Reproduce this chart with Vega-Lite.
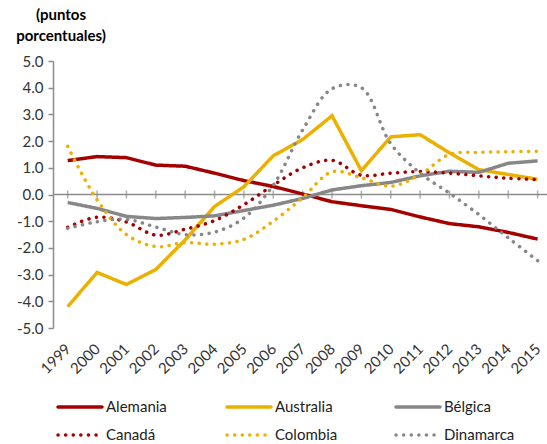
{
  "$schema": "https://vega.github.io/schema/vega-lite/v6.json",
  "width": 494,
  "height": 267,
  "autosize": {"type": "none"},
  "padding": {"left": 53, "top": 61, "right": 0, "bottom": 116},
  "background": "white",
  "config": {
    "font": "Lato",
    "view": {"stroke": null},
    "locale": {"number": {"decimal": ".", "thousands": ",", "grouping": [3], "currency": ["$", ""], "minus": "-"}},
    "axisX": {"labelAngle": -45, "labelAlign": "right", "labelBaseline": "middle", "domain": false, "ticks": false, "grid": false, "title": null, "labelFontSize": 15, "labelColor": "#333333", "labelPadding": 18, "labelFlush": false, "labelOverlap": false, "format": "d"},
    "axisY": {"format": ".1f", "domain": true, "domainColor": "#8c8c8c", "domainWidth": 1.5, "ticks": true, "tickSize": 5, "tickColor": "#8c8c8c", "tickWidth": 1.5, "grid": false, "title": null, "labelFontSize": 15, "labelPadding": 5, "labelColor": "#333333", "labelOverlap": false, "labelFlush": false}
  },
  "title": {
    "text": ["(puntos", "porcentuales)"],
    "anchor": "start",
    "frame": "group",
    "align": "center",
    "dx": 8,
    "fontSize": 15,
    "fontWeight": "bold",
    "lineHeight": 21,
    "offset": 10,
    "color": "#000000"
  },
  "data": {
    "values": [
      {"pais": "Alemania", "anio": 1999, "valor": 1.27},
      {"pais": "Alemania", "anio": 2000, "valor": 1.42},
      {"pais": "Alemania", "anio": 2001, "valor": 1.38},
      {"pais": "Alemania", "anio": 2002, "valor": 1.1},
      {"pais": "Alemania", "anio": 2003, "valor": 1.06},
      {"pais": "Alemania", "anio": 2004, "valor": 0.8},
      {"pais": "Alemania", "anio": 2005, "valor": 0.52},
      {"pais": "Alemania", "anio": 2006, "valor": 0.3},
      {"pais": "Alemania", "anio": 2007, "valor": 0.02},
      {"pais": "Alemania", "anio": 2008, "valor": -0.27},
      {"pais": "Alemania", "anio": 2009, "valor": -0.42},
      {"pais": "Alemania", "anio": 2010, "valor": -0.56},
      {"pais": "Alemania", "anio": 2011, "valor": -0.84},
      {"pais": "Alemania", "anio": 2012, "valor": -1.09},
      {"pais": "Alemania", "anio": 2013, "valor": -1.21},
      {"pais": "Alemania", "anio": 2014, "valor": -1.42},
      {"pais": "Alemania", "anio": 2015, "valor": -1.67},
      {"pais": "Australia", "anio": 1999, "valor": -4.2},
      {"pais": "Australia", "anio": 2000, "valor": -2.92},
      {"pais": "Australia", "anio": 2001, "valor": -3.37},
      {"pais": "Australia", "anio": 2002, "valor": -2.81},
      {"pais": "Australia", "anio": 2003, "valor": -1.7},
      {"pais": "Australia", "anio": 2004, "valor": -0.45},
      {"pais": "Australia", "anio": 2005, "valor": 0.29},
      {"pais": "Australia", "anio": 2006, "valor": 1.45},
      {"pais": "Australia", "anio": 2007, "valor": 2.06},
      {"pais": "Australia", "anio": 2008, "valor": 2.95},
      {"pais": "Australia", "anio": 2009, "valor": 0.89},
      {"pais": "Australia", "anio": 2010, "valor": 2.16},
      {"pais": "Australia", "anio": 2011, "valor": 2.24},
      {"pais": "Australia", "anio": 2012, "valor": 1.56},
      {"pais": "Australia", "anio": 2013, "valor": 0.93},
      {"pais": "Australia", "anio": 2014, "valor": 0.75},
      {"pais": "Australia", "anio": 2015, "valor": 0.57},
      {"pais": "Bélgica", "anio": 1999, "valor": -0.3},
      {"pais": "Bélgica", "anio": 2000, "valor": -0.52},
      {"pais": "Bélgica", "anio": 2001, "valor": -0.82},
      {"pais": "Bélgica", "anio": 2002, "valor": -0.9},
      {"pais": "Bélgica", "anio": 2003, "valor": -0.86},
      {"pais": "Bélgica", "anio": 2004, "valor": -0.8},
      {"pais": "Bélgica", "anio": 2005, "valor": -0.6},
      {"pais": "Bélgica", "anio": 2006, "valor": -0.4},
      {"pais": "Bélgica", "anio": 2007, "valor": -0.15},
      {"pais": "Bélgica", "anio": 2008, "valor": 0.17},
      {"pais": "Bélgica", "anio": 2009, "valor": 0.33},
      {"pais": "Bélgica", "anio": 2010, "valor": 0.45},
      {"pais": "Bélgica", "anio": 2011, "valor": 0.7},
      {"pais": "Bélgica", "anio": 2012, "valor": 0.87},
      {"pais": "Bélgica", "anio": 2013, "valor": 0.83},
      {"pais": "Bélgica", "anio": 2014, "valor": 1.17},
      {"pais": "Bélgica", "anio": 2015, "valor": 1.26},
      {"pais": "Canadá", "anio": 1999, "valor": -1.23},
      {"pais": "Canadá", "anio": 2000, "valor": -0.85},
      {"pais": "Canadá", "anio": 2001, "valor": -1.03},
      {"pais": "Canadá", "anio": 2002, "valor": -1.52},
      {"pais": "Canadá", "anio": 2003, "valor": -1.3},
      {"pais": "Canadá", "anio": 2004, "valor": -0.98},
      {"pais": "Canadá", "anio": 2005, "valor": -0.38},
      {"pais": "Canadá", "anio": 2006, "valor": 0.35},
      {"pais": "Canadá", "anio": 2007, "valor": 1.0},
      {"pais": "Canadá", "anio": 2008, "valor": 1.28},
      {"pais": "Canadá", "anio": 2009, "valor": 0.72},
      {"pais": "Canadá", "anio": 2010, "valor": 0.8},
      {"pais": "Canadá", "anio": 2011, "valor": 0.86},
      {"pais": "Canadá", "anio": 2012, "valor": 0.8},
      {"pais": "Canadá", "anio": 2013, "valor": 0.7},
      {"pais": "Canadá", "anio": 2014, "valor": 0.61},
      {"pais": "Canadá", "anio": 2015, "valor": 0.56},
      {"pais": "Colombia", "anio": 1999, "valor": 1.8},
      {"pais": "Colombia", "anio": 2000, "valor": -0.2},
      {"pais": "Colombia", "anio": 2001, "valor": -1.5},
      {"pais": "Colombia", "anio": 2002, "valor": -1.95},
      {"pais": "Colombia", "anio": 2003, "valor": -1.8},
      {"pais": "Colombia", "anio": 2004, "valor": -1.86},
      {"pais": "Colombia", "anio": 2005, "valor": -1.68},
      {"pais": "Colombia", "anio": 2006, "valor": -1.0},
      {"pais": "Colombia", "anio": 2007, "valor": -0.12},
      {"pais": "Colombia", "anio": 2008, "valor": 0.85},
      {"pais": "Colombia", "anio": 2009, "valor": 0.63},
      {"pais": "Colombia", "anio": 2010, "valor": 0.31},
      {"pais": "Colombia", "anio": 2011, "valor": 0.75},
      {"pais": "Colombia", "anio": 2012, "valor": 1.5},
      {"pais": "Colombia", "anio": 2013, "valor": 1.58},
      {"pais": "Colombia", "anio": 2014, "valor": 1.6},
      {"pais": "Colombia", "anio": 2015, "valor": 1.62},
      {"pais": "Dinamarca", "anio": 1999, "valor": -1.27},
      {"pais": "Dinamarca", "anio": 2000, "valor": -1.02},
      {"pais": "Dinamarca", "anio": 2001, "valor": -0.93},
      {"pais": "Dinamarca", "anio": 2002, "valor": -1.22},
      {"pais": "Dinamarca", "anio": 2003, "valor": -1.5},
      {"pais": "Dinamarca", "anio": 2004, "valor": -1.41},
      {"pais": "Dinamarca", "anio": 2005, "valor": -0.88},
      {"pais": "Dinamarca", "anio": 2006, "valor": 0.35},
      {"pais": "Dinamarca", "anio": 2007, "valor": 2.42},
      {"pais": "Dinamarca", "anio": 2008, "valor": 3.96},
      {"pais": "Dinamarca", "anio": 2009, "valor": 4.0},
      {"pais": "Dinamarca", "anio": 2010, "valor": 1.9},
      {"pais": "Dinamarca", "anio": 2011, "valor": 0.8},
      {"pais": "Dinamarca", "anio": 2012, "valor": 0.05},
      {"pais": "Dinamarca", "anio": 2013, "valor": -0.75},
      {"pais": "Dinamarca", "anio": 2014, "valor": -1.62},
      {"pais": "Dinamarca", "anio": 2015, "valor": -2.48}
    ]
  },
  "layer": [
    {
      "data": {"values": [{"cero": 0}]},
      "mark": {"type": "rule", "color": "#8c8c8c", "strokeWidth": 1.5},
      "encoding": {
        "y": {"field": "cero", "type": "quantitative", "scale": {"domain": [-5, 5], "nice": false, "zero": false},
          "axis": {"values": [-5, -4, -3, -2, -1, 0, 1, 2, 3, 4, 5], "labelOverlap": false}}
      }
    },
    {
      "transform": [{"filter": "datum.pais === 'Alemania'"}],
      "mark": {"type": "tick", "orient": "vertical", "size": 8, "thickness": 1.5, "color": "#8c8c8c"},
      "encoding": {
        "x": {"field": "anio", "type": "quantitative", "scale": {"domain": [1998.5, 2015.32], "nice": false, "zero": false},
          "axis": {"values": [1999, 2000, 2001, 2002, 2003, 2004, 2005, 2006, 2007, 2008, 2009, 2010, 2011, 2012, 2013, 2014, 2015], "labelOverlap": false}},
        "y": {"datum": 0, "type": "quantitative", "axis": {"values": [-5, -4, -3, -2, -1, 0, 1, 2, 3, 4, 5], "labelOverlap": false}}
      }
    },
    {
      "transform": [{"filter": "indexof(['Alemania','Australia','Bélgica'], datum.pais) >= 0"}],
      "mark": {"type": "line", "strokeWidth": 3.5, "interpolate": "linear", "strokeJoin": "miter"},
      "encoding": {
        "x": {"field": "anio", "type": "quantitative", "scale": {"domain": [1998.5, 2015.32], "nice": false, "zero": false},
          "axis": {"values": [1999, 2000, 2001, 2002, 2003, 2004, 2005, 2006, 2007, 2008, 2009, 2010, 2011, 2012, 2013, 2014, 2015], "labelOverlap": false}},
        "y": {"field": "valor", "type": "quantitative", "scale": {"domain": [-5, 5], "nice": false, "zero": false},
          "axis": {"values": [-5, -4, -3, -2, -1, 0, 1, 2, 3, 4, 5], "labelOverlap": false}},
        "color": {
          "field": "pais", "type": "nominal",
          "scale": {
            "domain": ["Alemania", "Australia", "Bélgica", "Canadá", "Colombia", "Dinamarca"],
            "range": ["#a50000", "#ebb000", "#878787", "#a50000", "#ebb000", "#878787"]
          },
          "legend": {
            "orient": "none", "legendX": 14, "legendY": 333, "columns": 3, "direction": "horizontal", "title": null,
            "symbolType": "M-2,0H2", "symbolSize": 484, "symbolStrokeWidth": 3.5,
            "labelFontSize": 15, "labelColor": "#222222", "labelOffset": 13,
            "columnPadding": 43, "rowPadding": 7, "gridAlign": "all", "padding": 0,
            "encode": {"symbols": {"update": {"strokeCap": {"value": "round"}}}}
          }
        },
        "strokeDash": {
          "field": "pais", "type": "nominal",
          "scale": {
            "domain": ["Alemania", "Australia", "Bélgica", "Canadá", "Colombia", "Dinamarca"],
            "range": [[1, 0], [1, 0], [1, 0], [0.1, 7.5], [0.1, 7.5], [0.1, 7.5]]
          }
        }
      }
    },
    {
      "transform": [{"filter": "indexof(['Canadá','Colombia','Dinamarca'], datum.pais) >= 0"}],
      "mark": {"type": "line", "strokeWidth": 3.5, "interpolate": "catmull-rom", "strokeCap": "round"},
      "encoding": {
        "x": {"field": "anio", "type": "quantitative", "scale": {"domain": [1998.5, 2015.32], "nice": false, "zero": false},
          "axis": {"values": [1999, 2000, 2001, 2002, 2003, 2004, 2005, 2006, 2007, 2008, 2009, 2010, 2011, 2012, 2013, 2014, 2015], "labelOverlap": false}},
        "y": {"field": "valor", "type": "quantitative", "scale": {"domain": [-5, 5], "nice": false, "zero": false},
          "axis": {"values": [-5, -4, -3, -2, -1, 0, 1, 2, 3, 4, 5], "labelOverlap": false}},
        "color": {"field": "pais", "type": "nominal"},
        "strokeDash": {"field": "pais", "type": "nominal"}
      }
    }
  ]
}
